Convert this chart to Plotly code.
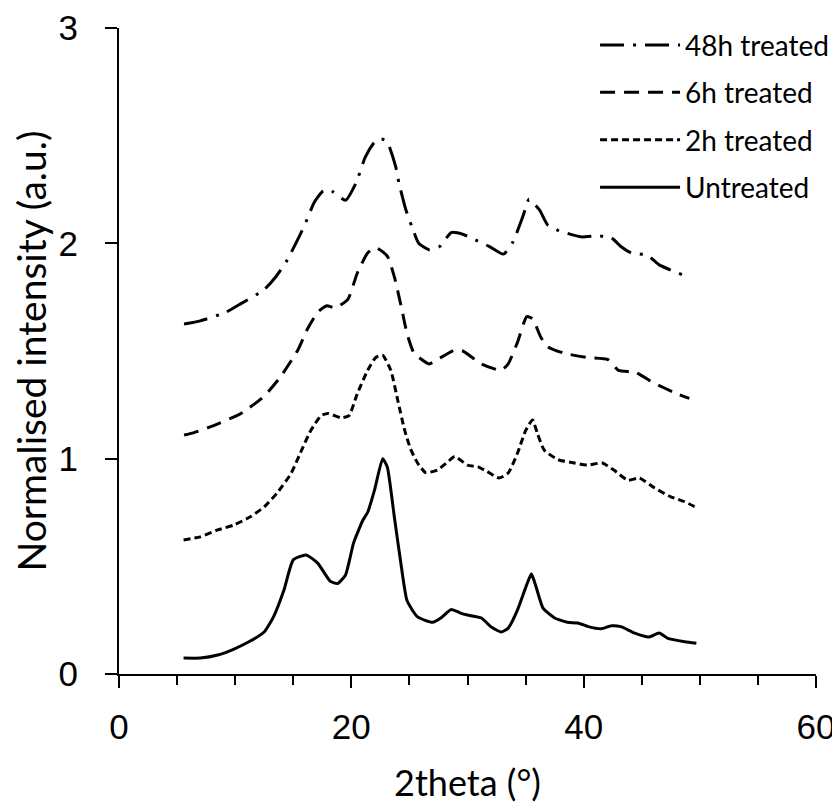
import plotly.graph_objects as go

# Untreated (solid)
x_untreated = [5.56, 7.0, 8.5, 9.9, 11.3, 12.5, 13.3, 14.2, 15.0, 16.1, 17.1, 18.2, 18.8, 19.5, 20.2, 21.0, 21.4, 22.0, 22.7, 23.1, 23.7, 24.3, 24.8, 25.7, 27.0, 27.7, 28.6, 29.4, 30.0, 31.2, 32.0, 32.9, 33.5, 34.3, 35.0, 35.5, 35.9, 36.5, 37.5, 38.6, 39.5, 40.4, 41.5, 42.4, 43.2, 44.4, 45.6, 46.5, 47.2, 48.7, 49.7]
y_untreated = [0.074, 0.074, 0.088, 0.116, 0.153, 0.195, 0.265, 0.39, 0.53, 0.553, 0.515, 0.43, 0.42, 0.46, 0.61, 0.715, 0.75, 0.855, 1.0, 0.96, 0.73, 0.5, 0.34, 0.265, 0.24, 0.26, 0.30, 0.283, 0.274, 0.26, 0.22, 0.195, 0.213, 0.297, 0.40, 0.465, 0.405, 0.306, 0.26, 0.24, 0.237, 0.22, 0.21, 0.224, 0.22, 0.19, 0.172, 0.19, 0.167, 0.15, 0.143]

# 2h treated (short dash)
x_2h = [5.56, 7.0, 8.5, 9.9, 11.3, 12.5, 13.6, 14.8, 15.6, 16.5, 17.4, 18.0, 19.1, 19.8, 20.5, 21.4, 22.1, 22.7, 23.4, 24.0, 24.6, 25.1, 25.7, 26.4, 27.4, 28.3, 28.9, 30.0, 30.9, 31.7, 32.7, 33.5, 34.3, 35.0, 35.6, 36.0, 36.6, 37.8, 39.2, 40.3, 41.6, 42.6, 43.8, 44.8, 46.1, 47.5, 48.7, 49.6]
y_2h = [0.622, 0.637, 0.669, 0.692, 0.73, 0.776, 0.84, 0.93, 1.025, 1.13, 1.20, 1.21, 1.19, 1.20, 1.30, 1.41, 1.47, 1.48, 1.41, 1.27, 1.13, 1.045, 0.98, 0.935, 0.947, 0.985, 1.01, 0.97, 0.962, 0.94, 0.91, 0.933, 1.025, 1.13, 1.18, 1.12, 1.04, 0.995, 0.98, 0.97, 0.98, 0.947, 0.90, 0.91, 0.864, 0.823, 0.80, 0.776]

# 6h treated (long dash)
x_6h = [5.6, 6.4, 8.2, 10.5, 12.5, 13.9, 15.4, 16.2, 17.1, 17.9, 18.6, 19.7, 20.5, 21.4, 22.1, 23.1, 23.7, 24.3, 24.8, 25.4, 26.7, 27.4, 28.9, 29.6, 31.2, 32.9, 33.5, 34.3, 35.1, 35.6, 36.3, 36.9, 38.3, 40.3, 42.1, 43.0, 44.5, 46.1, 48.1, 49.1]
y_6h = [1.11, 1.12, 1.155, 1.21, 1.29, 1.38, 1.505, 1.60, 1.68, 1.71, 1.70, 1.74, 1.86, 1.955, 1.98, 1.94, 1.845, 1.705, 1.58, 1.49, 1.44, 1.46, 1.505, 1.50, 1.44, 1.41, 1.44, 1.54, 1.66, 1.65, 1.565, 1.52, 1.49, 1.47, 1.46, 1.41, 1.40, 1.35, 1.30, 1.28]

# 48h treated (dash-dot)
x_48h = [5.6, 7.0, 9.2, 10.5, 12.5, 13.5, 14.4, 15.5, 16.1, 16.8, 17.5, 18.1, 18.4, 19.5, 20.4, 21.2, 22.0, 22.6, 23.1, 23.8, 24.1, 24.7, 25.2, 25.8, 26.7, 27.6, 28.6, 29.7, 30.9, 31.9, 33.1, 33.9, 34.8, 35.3, 36.2, 36.9, 37.8, 39.8, 41.2, 42.4, 43.2, 44.1, 45.5, 46.5, 48.7]
y_48h = [1.625, 1.64, 1.68, 1.72, 1.785, 1.845, 1.915, 2.03, 2.10, 2.19, 2.24, 2.25, 2.24, 2.20, 2.28, 2.40, 2.47, 2.485, 2.47, 2.36, 2.28, 2.155, 2.08, 2.0, 1.97, 1.985, 2.05, 2.04, 2.01, 1.985, 1.95, 2.005, 2.13, 2.205, 2.155, 2.085, 2.06, 2.03, 2.035, 2.025, 1.985, 1.955, 1.945, 1.90, 1.85]

x_ticks = [0, 20, 40, 60]
y_ticks = [0, 1, 2, 3]

FONT = "Lato"
TICK_FONT = "Liberation Sans"

series = [
    ("48h treated", x_48h, y_48h, "24px,9px,3px,9px"),
    ("6h treated", x_6h, y_6h, "15px,9px"),
    ("2h treated", x_2h, y_2h, "7px,4px"),
    ("Untreated", x_untreated, y_untreated, "solid"),
]

fig = go.Figure()
for name, xs, ys, dash in series:
    fig.add_trace(go.Scatter(
        x=xs, y=ys, name=name, mode="lines", legendgroup=name,
        line=dict(color="black", width=3, dash=dash, shape="spline", smoothing=0.5),
    ))

# page body has an 8px margin: figure is sized/placed to compensate
fig.update_layout(
    width=840, height=796,
    margin=dict(l=110.5, r=32, t=20, b=130, autoexpand=False),
    paper_bgcolor="white", plot_bgcolor="white",
    font=dict(family=FONT, color="black", size=36),
    showlegend=True,
    legend=dict(
        x=0.683, y=1.012, xanchor="left", yanchor="top",
        font=dict(size=28, family=FONT), bgcolor="rgba(0,0,0,0)",
        tracegroupgap=8, itemwidth=80,
    ),
    xaxis=dict(
        range=[0, 60], tickvals=x_ticks, ticks="outside", ticklen=12, tickwidth=2,
        tickcolor="black", showline=True, linecolor="black", linewidth=2,
        showgrid=False, zeroline=False, tickfont=dict(size=35, family=TICK_FONT), automargin=False,
        ticklabelstandoff=9, ticklabeloverflow="allow",
        minor=dict(dtick=5, ticks="outside", ticklen=9, tickwidth=2, tickcolor="black", showgrid=False),
        title=dict(text="2theta (°)", font=dict(size=36), standoff=30),
    ),
    yaxis=dict(
        range=[0, 3], tickvals=y_ticks, ticks="outside", ticklen=12, tickwidth=2,
        tickcolor="black", showline=True, linecolor="black", linewidth=2,
        showgrid=False, zeroline=False, tickfont=dict(size=35, family=TICK_FONT), automargin=False,
        ticklabelstandoff=20, ticklabeloverflow="allow",
        title=dict(text="Normalised intensity (a.u.)", font=dict(size=39), standoff=10),
    ),
)

fig.write_html("out.html")
